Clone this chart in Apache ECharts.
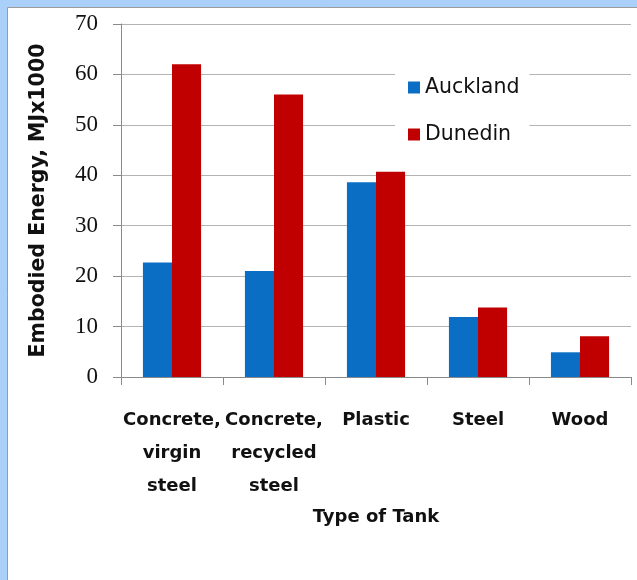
<!DOCTYPE html>
<html lang="en">
<head>
   <meta charset="utf-8">
   <title>Embodied Energy by Type of Tank</title>
   <script src="https://cdn.jsdelivr.net/npm/echarts@6.0.0/dist/echarts.min.js"></script>
   <style>
      html, body { margin: 0; padding: 0; }
      #chart-container { width: 637px; height: 580px; }
   </style>
</head>
<body>
   <div id="chart-container"></div>
   <script>
      var categories = ['Concrete,\nvirgin\nsteel', 'Concrete,\nrecycled\nsteel', 'Plastic', 'Steel', 'Wood'];
      var auckland = [22.7, 21.0, 38.6, 11.9, 4.9];
      var dunedin = [62.0, 56.0, 40.7, 13.8, 8.1];
      var yTicks = [0, 10, 20, 30, 40, 50, 60, 70];

      var myChart = echarts.init(document.getElementById('chart-container'), null, {
         renderer: 'canvas'
      });

      var option = {
         backgroundColor: '#aacff8',
         animation: false,
         graphic: [
            {
               type: 'rect',
               z: -10,
               shape: { x: 7.5, y: 7.5, width: 700, height: 700 },
               style: { fill: '#ffffff', stroke: '#9c9c9c', lineWidth: 1 }
            }
         ],
         legend: {
            orient: 'vertical',
            left: 395,
            top: 65,
            padding: [12, 10, 12, 13],
            backgroundColor: '#ffffff',
            itemWidth: 12,
            itemHeight: 12,
            itemGap: 26,
            icon: 'rect',
            textStyle: {
               fontFamily: 'DejaVu Sans',
               fontSize: 20.5,
               color: '#111'
            },
            data: ['Auckland', 'Dunedin']
         },
         grid: {
            left: 121,
            right: 6,
            top: 24,
            bottom: 203,
            containLabel: false
         },
         xAxis: {
            type: 'category',
            data: categories,
            name: 'Type of Tank',
            nameLocation: 'middle',
            nameGap: 126,
            nameTextStyle: {
               fontFamily: 'DejaVu Sans',
               fontWeight: 'bold',
               fontSize: 18,
               color: '#111'
            },
            axisLine: { lineStyle: { color: '#8a8a8a', width: 1 } },
            axisTick: { show: true, length: 8, alignWithLabel: false, lineStyle: { color: '#8a8a8a' } },
            axisLabel: {
               interval: 0,
               margin: 27,
               fontFamily: 'DejaVu Sans',
               fontWeight: 'bold',
               fontSize: 18,
               lineHeight: 33,
               color: '#111'
            },
            splitLine: { show: false }
         },
         yAxis: {
            type: 'value',
            min: yTicks[0],
            max: yTicks[yTicks.length - 1],
            interval: 10,
            name: 'Embodied Energy, MJx1000',
            nameLocation: 'middle',
            nameGap: 72,
            nameTextStyle: {
               fontFamily: 'DejaVu Sans',
               fontWeight: 'bold',
               fontSize: 20.5,
               color: '#111'
            },
            axisLine: { show: true, lineStyle: { color: '#8a8a8a', width: 1 } },
            axisTick: { show: true, length: 8, lineStyle: { color: '#8a8a8a' } },
            axisLabel: {
               margin: 23,
               fontFamily: 'Liberation Serif',
               fontSize: 23,
               color: '#111'
            },
            splitLine: { show: true, lineStyle: { color: '#b4b4b4', width: 1 } }
         },
         series: [
            {
               name: 'Auckland',
               type: 'bar',
               data: auckland,
               barGap: '0%',
               barCategoryGap: '43%',
               itemStyle: { color: '#0a6fc4' }
            },
            {
               name: 'Dunedin',
               type: 'bar',
               data: dunedin,
               barGap: '0%',
               barCategoryGap: '43%',
               itemStyle: { color: '#c00000' }
            }
         ]
      };

      myChart.setOption(option);
   </script>
</body>
</html>
